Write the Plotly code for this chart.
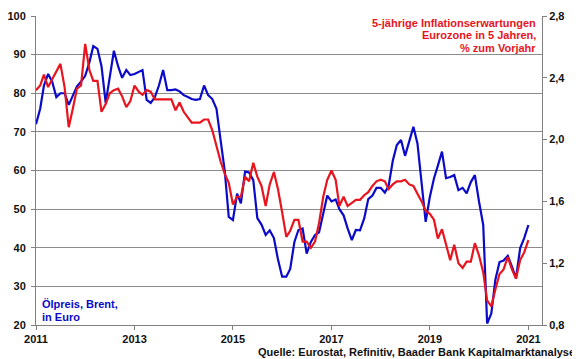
import plotly.graph_objects as go
import pandas as pd

# Monthly dates Jan 2011 .. Jan 2021
dates = pd.date_range("2011-01-01", "2021-01-01", freq="MS")

# Brent oil price in EUR (left axis)
brent_eur = [
    72, 76, 82, 85, 83, 79, 80, 80, 77, 79.5, 81.8, 83,
    84.5, 88, 92.2, 91.5, 87, 77.5, 84, 91, 87, 84, 86, 84.7,
    85, 85.5, 86, 78.3, 77.5, 79, 82, 86, 80.8, 80.8, 81, 80.5,
    79.5, 79, 78.5, 78.3, 78.5, 82, 79.5, 78.5, 76, 68, 60, 48,
    47.2, 54, 51.5, 59.7, 59.5, 57.5, 47.7, 46, 43.3, 44.5, 42.5, 37,
    32.5, 32.5, 34.5, 41.5, 44.6, 45, 38.5, 41.5, 43.3, 44, 48.5, 53.5,
    52, 52.5, 50, 48.4, 45, 42, 44.6, 44.5, 47.6, 52.6, 53.5, 55.5,
    55.5, 54.3, 56, 62.5, 66.6, 67.9, 63.8, 67.5, 71.3, 67, 57.5, 46.7,
    53.2, 58, 61.2, 64.9, 58, 58.3, 58.8, 54.9, 55.5, 54.1, 57, 58.8,
    51.9, 45.9, 20.4, 23, 31.7, 36.3, 36.7, 37.9, 35.1, 32.1, 39.9, 42.5,
    45.9,
]

# 5y5y inflation expectations euro area, % (right axis)
infl_exp = [
    2.32, 2.35, 2.42, 2.34, 2.39, 2.44, 2.49, 2.34, 2.08, 2.20, 2.33, 2.35,
    2.62, 2.45, 2.38, 2.38, 2.18, 2.23, 2.30, 2.32, 2.33, 2.28, 2.21, 2.25,
    2.35, 2.31, 2.29, 2.32, 2.31, 2.26, 2.26, 2.26, 2.26, 2.26, 2.19, 2.24,
    2.18, 2.14, 2.11, 2.11, 2.11, 2.13, 2.13, 2.06, 1.95, 1.86, 1.78, 1.72,
    1.58, 1.63, 1.63, 1.76, 1.73, 1.85, 1.76, 1.70, 1.57, 1.71, 1.79, 1.68,
    1.53, 1.37, 1.41, 1.48, 1.48, 1.34, 1.34, 1.30, 1.34, 1.46, 1.63, 1.74,
    1.80, 1.74, 1.57, 1.63, 1.57, 1.59, 1.61, 1.61, 1.64, 1.66, 1.70, 1.73,
    1.74, 1.73, 1.68, 1.71, 1.73, 1.73, 1.74, 1.71, 1.70, 1.65, 1.60, 1.54,
    1.52, 1.48, 1.36, 1.42, 1.32, 1.22, 1.32, 1.20, 1.17, 1.21, 1.21, 1.33,
    1.25, 1.14, 0.96, 0.92, 1.03, 1.13, 1.16, 1.24, 1.16, 1.10, 1.22, 1.27,
    1.35,
]

x_ticks = ["2011-01-01", "2013-01-01", "2015-01-01", "2017-01-01", "2019-01-01", "2021-01-01"]
x_tick_labels = ["2011", "2013", "2015", "2017", "2019", "2021"]
left_ticks = [20, 30, 40, 50, 60, 70, 80, 90, 100]
right_ticks = [0.8, 1.2, 1.6, 2.0, 2.4, 2.8]
right_tick_labels = ["0,8", "1,2", "1,6", "2,0", "2,4", "2,8"]

BLUE = "#0a0ac8"
RED = "#e8141e"
FONT = "Liberation Sans"

fig = go.Figure()
fig.add_trace(go.Scatter(x=dates, y=brent_eur, mode="lines",
                         line=dict(color=BLUE, width=2.2), yaxis="y"))
fig.add_trace(go.Scatter(x=dates, y=infl_exp, mode="lines",
                         line=dict(color=RED, width=2.2), yaxis="y2"))

W, H = 580, 359
OFF = 8  # page body margin offset
# desired plot area in page pixels
PL, PT, PR, PB = 36, 16, 542, 325
L, T = PL - OFF, PT - OFF
R = W - (PR - OFF)
B = H - (PB - OFF)
pw, ph = PR - PL, PB - PT


def px(xp):
    return (xp - PL) / pw


def py(yp):
    return (PB - yp) / ph


tickfont = dict(family=FONT, size=11, color="#111111", weight="bold")

fig.update_layout(
    width=W, height=H,
    margin=dict(l=L, r=R, t=T, b=B, pad=0, autoexpand=False),
    paper_bgcolor="white", plot_bgcolor="white",
    showlegend=False,
    font=dict(family=FONT),
    xaxis=dict(
        type="date",
        range=["2011-01-01", "2021-04-12"],
        tickmode="array", tickvals=x_ticks, ticktext=x_tick_labels,
        showgrid=False, zeroline=False, automargin=False,
        showline=True, linecolor="#808080", linewidth=1,
        ticks="outside", ticklen=4, tickcolor="#808080",
        tickfont=tickfont,
    ),
    yaxis=dict(
        range=[20, 100],
        tickmode="array", tickvals=left_ticks,
        showgrid=True, gridcolor="#8c8c8c", gridwidth=1,
        zeroline=False, automargin=False,
        showline=True, linecolor="#808080", linewidth=1,
        ticks="outside", ticklen=4, tickcolor="#808080",
        ticklabelstandoff=3,
        tickfont=tickfont,
    ),
    yaxis2=dict(
        range=[0.8, 2.8], overlaying="y", side="right",
        tickmode="array", tickvals=right_ticks, ticktext=right_tick_labels,
        showgrid=False, zeroline=False, automargin=False,
        showline=True, linecolor="#808080", linewidth=1,
        ticks="outside", ticklen=4, tickcolor="#808080",
        tickfont=tickfont,
    ),
)

red_lines = ["5-jährige Inflationserwartungen", "Eurozone in 5 Jahren,", "% zum Vorjahr"]
red_y = [23, 35.5, 48]
for txt, yy in zip(red_lines, red_y):
    fig.add_annotation(text=txt, xref="paper", yref="paper", x=px(538), y=py(yy),
                       xanchor="right", yanchor="middle", showarrow=False,
                       font=dict(family=FONT, size=11, color=RED, weight="bold"))

blue_lines = ["Ölpreis, Brent,", "in Euro"]
blue_y = [304, 317]
for txt, yy in zip(blue_lines, blue_y):
    fig.add_annotation(text=txt, xref="paper", yref="paper", x=px(40), y=py(yy),
                       xanchor="left", yanchor="middle", showarrow=False,
                       font=dict(family=FONT, size=11, color=BLUE, weight="bold"))

fig.add_annotation(text="Quelle: Eurostat, Refinitiv, Baader Bank Kapitalmarktanalyse",
                   xref="paper", yref="paper", x=px(577), y=py(352),
                   xanchor="right", yanchor="middle", showarrow=False,
                   font=dict(family=FONT, size=11, color="#111111", weight="bold"))

fig.write_html("out.html")
